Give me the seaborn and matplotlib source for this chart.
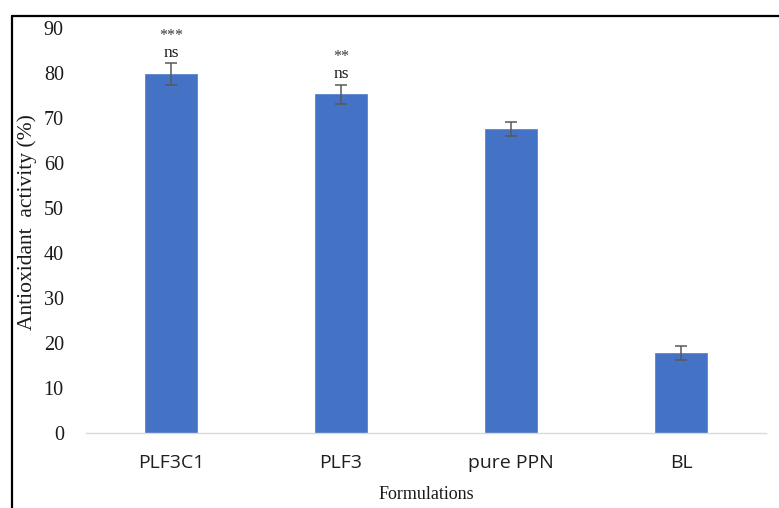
import matplotlib
matplotlib.use("Agg")
import matplotlib.pyplot as plt
import seaborn as sns
import pandas as pd
from matplotlib.lines import Line2D

categories = ["PLF3C1", "PLF3", "pure PPN", "BL"]
values = [79.8, 75.3, 67.5, 17.8]
errors = [2.4, 2.1, 1.6, 1.5]
stars = ["***", "**", "", ""]
ns_labels = ["ns", "ns", "", ""]
yticks = [0, 10, 20, 30, 40, 50, 60, 70, 80, 90]

sns.set_theme(style="white")
plt.rcParams["font.family"] = ["Liberation Serif", "DejaVu Serif"]

df = pd.DataFrame({"Formulation": categories, "Activity": values})

fig = plt.figure(figsize=(7.79, 5.08), dpi=100)
ax = fig.add_axes([86 / 779, 1 - 433 / 508, 680 / 779, 405 / 508])

sns.barplot(data=df, x="Formulation", y="Activity", color="#4472C4",
            width=0.31, saturation=1, errorbar=None, ax=ax,
            edgecolor="#5B85D0", linewidth=0.6)

ax.errorbar(range(len(categories)), values, yerr=errors, fmt="none",
            ecolor="#595959", elinewidth=1.1, capsize=4.5, capthick=1.1)

for i, (v, e) in enumerate(zip(values, errors)):
    if ns_labels[i]:
        ax.text(i, v + e + 2.3, ns_labels[i], ha="center", va="center",
                fontsize=12.5, color="#1a1a1a", family="Liberation Serif")
    if stars[i]:
        ax.text(i, v + e + 6.1, stars[i], ha="center", va="center",
                fontsize=11.5, color="#3a3a3a", family="Liberation Serif")

ax.set_xlim(-0.5, 3.5)
ax.set_ylim(0, 90)
ax.set_yticks(yticks)
ax.set_yticklabels([str(t) for t in yticks], fontsize=14.5,
                   family="Liberation Serif", color="#1a1a1a")
ax.set_xticks(range(len(categories)))
ax.set_xticklabels(categories, fontsize=14, family="Open Sans", color="#1f1f1f")
ax.tick_params(axis="y", length=0, pad=16)
ax.tick_params(axis="x", length=0, pad=15)

ax.set_xlabel("Formulations", fontsize=13, family="Liberation Serif",
              color="#1a1a1a", labelpad=10)
ax.set_ylabel("Antioxidant  activity (%)", fontsize=15.5,
              family="Liberation Serif", color="#1a1a1a")
ax.yaxis.label.set_va("center")
ax.yaxis.set_label_coords(-0.087, 0.52)

for s in ["top", "right", "left"]:
    ax.spines[s].set_visible(False)
ax.spines["bottom"].set_color("#D9D9D9")
ax.spines["bottom"].set_linewidth(1.0)

# outer border (top and left only)
fig.add_artist(Line2D([12 / 779, 1.0], [1 - 16 / 508, 1 - 16 / 508],
                      color="black", linewidth=1.6, transform=fig.transFigure))
fig.add_artist(Line2D([12 / 779, 12 / 779], [0, 1 - 16 / 508],
                      color="black", linewidth=1.6, transform=fig.transFigure))

fig.savefig("out.png", dpi=100)
